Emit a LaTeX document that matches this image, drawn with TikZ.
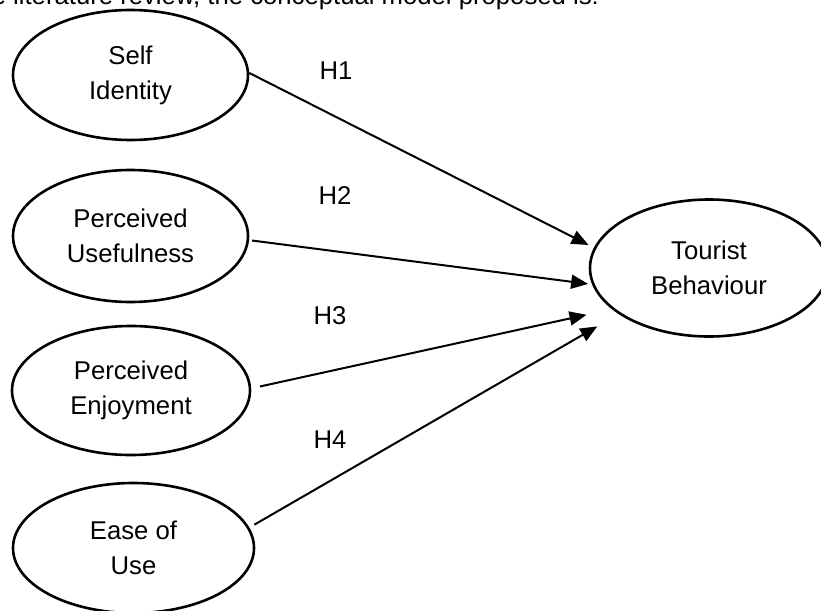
\documentclass[tikz,border=0pt]{standalone}
\usepackage{fontspec}
\setmainfont{Liberation Sans}
\usetikzlibrary{shapes.geometric,arrows.meta}

\begin{document}
\begin{tikzpicture}[x=1pt,y=-1pt,
  every node/.style={font=\fontsize{25.7}{35}\selectfont},
  construct/.style={draw,ellipse,line width=2.6pt,inner sep=0pt,align=center},
  path/.style={line width=2pt,-{Triangle[length=17pt,width=14pt]}},
  hyp/.style={inner sep=0pt}]
  \useasboundingbox (0,0) rectangle (821,610);
  \clip (0,0) rectangle (821,610);

  % lead-in sentence above the model
  \node[anchor=base west,inner sep=0pt] (intro) at (13,5)
    {\llap{the }literature review, the conceptual model proposed is:};

  % constructs
  \node[construct,minimum width=235pt,minimum height=130pt] (si) at (130.5,75)  {Self\\Identity};
  \node[construct,minimum width=235pt,minimum height=132pt] (pu) at (130.5,236) {Perceived\\Usefulness};
  \node[construct,minimum width=238pt,minimum height=129pt] (pe) at (131,390.5) {Perceived\\Enjoyment};
  \node[construct,minimum width=241pt,minimum height=130pt] (eu) at (133.5,548) {Ease of\\Use};
  \node[construct,minimum width=238pt,minimum height=137pt] (tb) at (709,268)   {Tourist\\Behaviour};

  % hypothesised paths
  \draw[path,shorten >=6pt] (si.1) -- (tb.170.9);
  \draw[path,shorten <=3pt,shorten >=4pt] (pu.-2.2) -- (tb.188.65);
  \draw[path,shorten <=9pt,shorten >=26pt] (pe.1.2) -- (tb.203.7);
  \draw[path,shorten <=5.7pt,shorten >=24.6pt] (eu.10) -- (tb.207.3);

  % path labels
  \node[hyp] (h1) at (336,71)  {H1};
  \node[hyp] (h2) at (335,196) {H2};
  \node[hyp] (h3) at (330,316) {H3};
  \node[hyp] (h4) at (330,440) {H4};
\end{tikzpicture}
\end{document}
